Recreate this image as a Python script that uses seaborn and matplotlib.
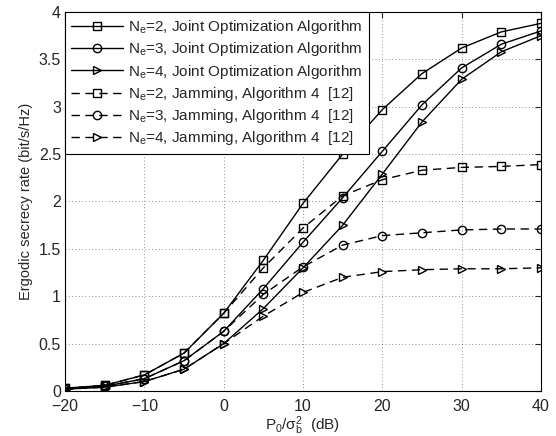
import matplotlib
matplotlib.use("Agg")
import matplotlib.pyplot as plt
import seaborn as sns
import numpy as np
import pandas as pd

snr_db = [-20, -15, -10, -5, 0, 5, 10, 15, 20, 25, 30, 35, 40]

joint_ne2 = [0.03, 0.06, 0.17, 0.40, 0.82, 1.38, 1.98, 2.50, 2.97, 3.35, 3.62, 3.79, 3.88]
joint_ne3 = [0.02, 0.05, 0.13, 0.32, 0.63, 1.08, 1.57, 2.04, 2.53, 3.02, 3.41, 3.66, 3.80]
joint_ne4 = [0.02, 0.04, 0.10, 0.23, 0.50, 0.87, 1.30, 1.75, 2.29, 2.84, 3.29, 3.58, 3.75]
jam_ne2 = [0.03, 0.06, 0.17, 0.40, 0.82, 1.30, 1.72, 2.06, 2.23, 2.33, 2.36, 2.37, 2.39]
jam_ne3 = [0.02, 0.05, 0.13, 0.32, 0.63, 1.02, 1.31, 1.54, 1.64, 1.67, 1.70, 1.71, 1.71]
jam_ne4 = [0.02, 0.04, 0.10, 0.23, 0.50, 0.79, 1.04, 1.20, 1.26, 1.28, 1.29, 1.29, 1.30]

labels = [
    "N$_e$=2, Joint Optimization Algorithm",
    "N$_e$=3, Joint Optimization Algorithm",
    "N$_e$=4, Joint Optimization Algorithm",
    "N$_e$=2, Jamming, Algorithm 4  [12]",
    "N$_e$=3, Jamming, Algorithm 4  [12]",
    "N$_e$=4, Jamming, Algorithm 4  [12]",
]
series = [joint_ne2, joint_ne3, joint_ne4, jam_ne2, jam_ne3, jam_ne4]
markers = ["s", "o", ">", "s", "o", ">"]
dashed = [False, False, False, True, True, True]

x_ticks = [-20, -10, 0, 10, 20, 30, 40]
y_ticks = [0, 0.5, 1, 1.5, 2, 2.5, 3, 3.5, 4]
y_ticklabels = ["0", "0.5", "1", "1.5", "2", "2.5", "3", "3.5", "4"]

sns.set_style("white")
plt.rcParams["font.family"] = ["Liberation Sans", "DejaVu Sans"]
plt.rcParams["mathtext.default"] = "regular"
plt.rcParams["xtick.direction"] = "in"
plt.rcParams["ytick.direction"] = "in"

fig = plt.figure(figsize=(5.56, 4.36), dpi=100)
ax = fig.add_axes([0.117, 0.1032, 0.856, 0.8693])

for vals, lab, mk, ds in zip(series, labels, markers, dashed):
    df = pd.DataFrame({"x": snr_db, "y": vals})
    kw = dict(color="black", linewidth=1.0, marker=mk, markersize=6,
              markerfacecolor="none", markeredgecolor="black", markeredgewidth=1.0)
    if ds:
        kw["dashes"] = (6, 4)
    sns.lineplot(data=df, x="x", y="y", ax=ax, label=lab, **kw)

ax.set_xlim(-20, 40)
ax.set_ylim(0, 4)
ax.set_xticks(x_ticks)
ax.set_yticks(y_ticks)
ax.set_yticklabels(y_ticklabels)
ax.tick_params(axis="both", labelsize=11.5, length=4, width=0.8, top=True, right=True)
ax.tick_params(axis="x", pad=6)
ax.tick_params(axis="y", pad=3)
ax.grid(True, linestyle=(0, (1, 3)), color="black", linewidth=0.6, alpha=0.6)
for sp in ax.spines.values():
    sp.set_visible(True)
    sp.set_color("black")
    sp.set_linewidth(0.8)

ax.set_xlabel(r"P$_0$/$\sigma_b^2$  (dB)", fontsize=11, labelpad=0)
ax.set_ylabel("Ergodic secrecy rate (bit/s/Hz)", fontsize=10.5, labelpad=4)

leg = ax.legend(loc="upper left", fontsize=11, handlelength=3.4, numpoints=1,
                frameon=True, fancybox=False, edgecolor="black", borderaxespad=0.0,
                labelspacing=0.28, handletextpad=0.35, borderpad=0.4)
leg.get_frame().set_linewidth(0.8)
leg.get_frame().set_alpha(1)

fig.savefig("out.png", dpi=100)
